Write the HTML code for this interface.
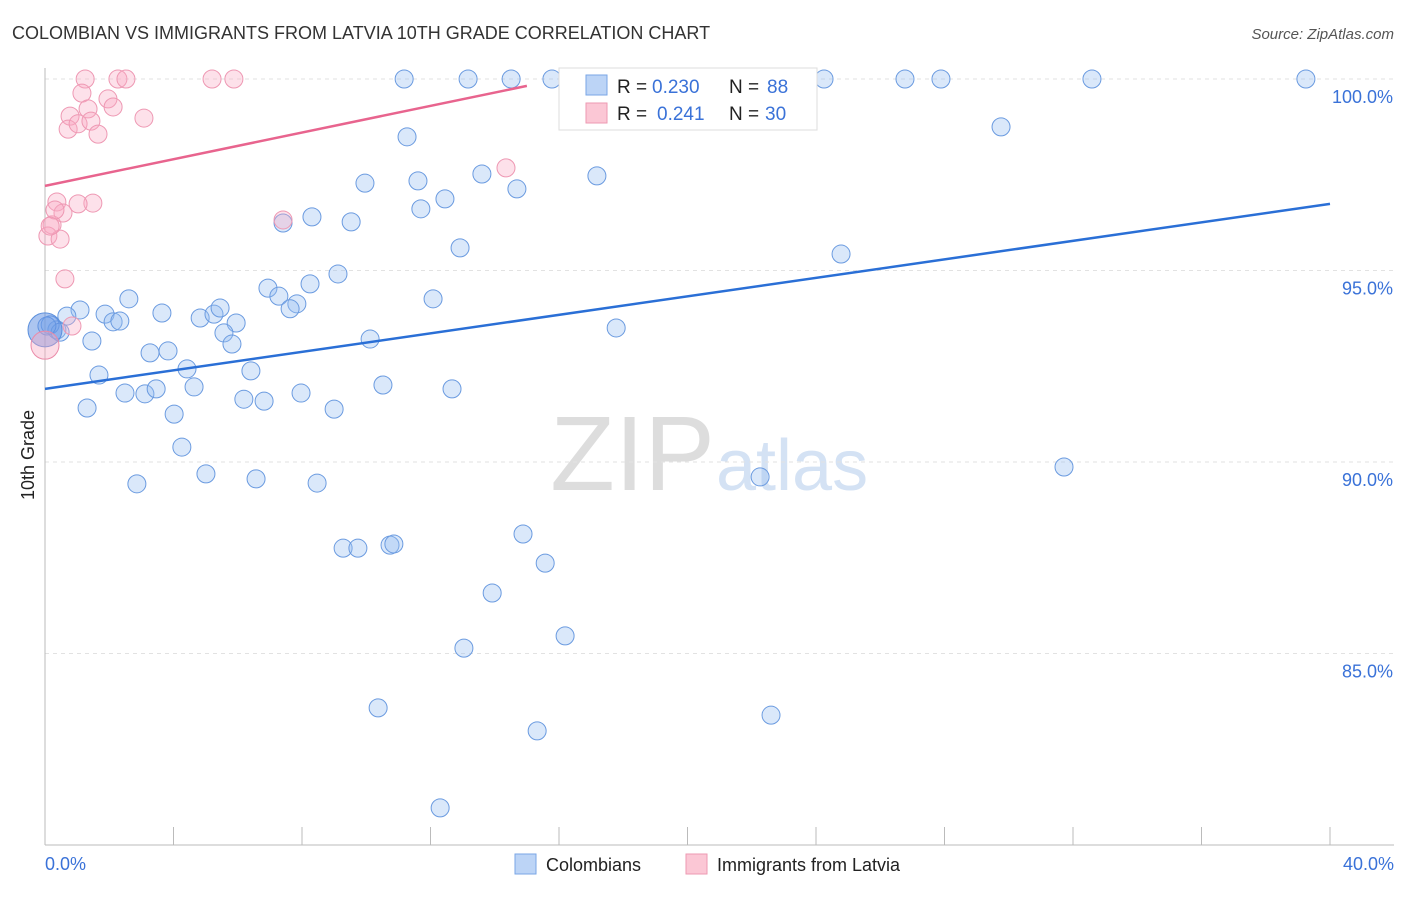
<!DOCTYPE html>
<html><head><meta charset="utf-8"><style>
body{margin:0;background:#fff;font-family:"Liberation Sans",sans-serif}
svg text{font-family:"Liberation Sans",sans-serif}
</style></head><body>
<svg id="c" width="1406" height="892">
<text x="12" y="39" font-size="18" fill="#333">COLOMBIAN VS IMMIGRANTS FROM LATVIA 10TH GRADE CORRELATION CHART</text>
<text x="1394" y="39" font-size="15" fill="#555" font-style="italic" text-anchor="end">Source: ZipAtlas.com</text>
<text x="34" y="455" font-size="18" fill="#222" transform="rotate(-90 34 455)" text-anchor="middle">10th Grade</text>
<text x="715" y="490" font-size="106" fill="#ddd" text-anchor="end" font-family="Liberation Serif">ZIP</text>
<text x="716" y="490" font-size="72" fill="#d4e2f4">atlas</text>
<g id="grid"></g><g id="pts"></g><g id="lines"></g>
<g>
<rect x="559" y="68" width="258" height="62" fill="#fff" stroke="#ddd"/>
<rect x="586" y="75" width="21" height="20" fill="#bcd4f6" stroke="#7aa6e6"/>
<rect x="586" y="103" width="21" height="20" fill="#fbc7d5" stroke="#ee9ab2"/>
<text x="617" y="93" font-size="19" fill="#222">R =</text>
<text x="652" y="93" font-size="19" fill="#3a72d8">0.230</text>
<text x="729" y="93" font-size="19" fill="#222">N =</text>
<text x="767" y="93" font-size="19" fill="#3a72d8">88</text>
<text x="617" y="120" font-size="19" fill="#222">R =</text>
<text x="657" y="120" font-size="19" fill="#3a72d8">0.241</text>
<text x="729" y="120" font-size="19" fill="#222">N =</text>
<text x="765" y="120" font-size="19" fill="#3a72d8">30</text>
</g>
<g>
<rect x="515" y="854" width="21" height="20" fill="#bcd4f6" stroke="#7aa6e6"/>
<text x="546" y="871" font-size="18" fill="#222">Colombians</text>
<rect x="686" y="854" width="21" height="20" fill="#fbc7d5" stroke="#ee9ab2"/>
<text x="717" y="871" font-size="18" fill="#222">Immigrants from Latvia</text>
</g>
</svg>
<script>
const yTicks=[100,95,90,85];
const yTickLabels=["100.0%","95.0%","90.0%","85.0%"];
const xEndLabels=["0.0%","40.0%"];
const blueX=[11.18,13.17,14.51,15.78,24.25,26.77,27.89,32.59,39.25,11.27,29.76,9.96,11.61,13.60,14.69,17.18,11.70,12.45,8.31,9.53,7.41,12.92,24.78,9.12,6.94,8.25,7.28,7.84,7.63,12.08,2.61,1.09,0.68,1.87,2.12,2.33,3.64,4.83,5.26,5.45,5.95,5.57,5.82,10.12,17.78,1.46,0.37,0.16,0.47,3.27,3.83,1.68,4.42,6.41,4.64,2.49,3.11,3.46,6.19,6.82,7.97,10.52,12.67,9.00,1.31,4.02,4.26,5.01,6.57,2.86,8.47,22.26,31.72,9.28,9.74,10.74,10.86,14.88,15.57,13.92,16.19,13.04,10.37,22.60,15.32,12.30,0.06];
const blueY=[100,100,100,100,100,100,100,100,100,98.49,98.75,97.28,97.34,97.52,97.13,97.47,96.61,96.87,96.40,96.27,96.24,95.59,95.43,94.91,94.54,94.65,94.33,94.13,94.0,94.26,94.26,93.97,93.81,93.86,93.66,93.68,93.89,93.76,93.86,94.02,93.63,93.37,93.08,93.21,93.50,93.16,93.45,93.58,93.39,92.85,92.90,92.27,92.43,92.38,91.96,91.80,91.78,91.91,91.64,91.59,91.80,92.01,91.91,91.38,91.41,91.25,90.39,89.69,89.56,89.43,89.45,89.61,89.87,87.75,87.75,87.83,87.86,88.12,87.36,86.58,85.46,85.14,83.58,83.39,82.98,80.97,93.55];
const pinkX=[1.25,2.27,2.52,5.20,5.88,1.15,1.96,0.78,1.34,2.12,0.72,1.03,1.43,1.65,3.08,14.35,7.41,0.37,1.49,1.03,0.56,0.22,0.09,0.47,0.62,0.84,0.31,0.16];
const pinkY=[100,100,100,100,100,99.63,99.48,99.03,99.22,99.27,98.69,98.83,98.90,98.56,98.98,97.68,96.32,96.79,96.76,96.74,96.50,96.19,95.90,95.82,94.78,93.55,96.58,96.16];
const blueBig=[0.0,93.45]; const pinkBig=[0.0,93.05];
const blueTrend=[91.91,96.74];
const pinkTrend=[97.21,99.82,15.0];
const NS="http://www.w3.org/2000/svg";
const X=v=>45+v/40*1285, Y=v=>79+(100-v)/5*191.5;
function mk(t,a,p){const e=document.createElementNS(NS,t);for(const k in a)e.setAttribute(k,a[k]);p.appendChild(e);return e;}
const g=document.getElementById('grid');
yTicks.forEach((t,i)=>{
 const l=mk('line',{x1:45,x2:1394,y1:Y(t),y2:Y(t),stroke:'#e2e2e2','stroke-dasharray':'4,4'},g);
 
 
 const tx=mk('text',{x:1393,y:Y(t)+24,'font-size':18,fill:'#3a72d8','text-anchor':'end'},g);tx.textContent=yTickLabels[i];
 
 
});
mk('line',{x1:45,x2:45,y1:68,y2:845,stroke:'#bbb'},g);
mk('line',{x1:45,x2:1394,y1:845,y2:845,stroke:'#bbb'},g);
for(let i=0;i<=10;i++){mk('line',{x1:X(i*4),x2:X(i*4),y1:827,y2:845,stroke:'#bbb'},g);}
[[0,'start',45],[40,'end',1394]].forEach((d,i)=>{const t=mk('text',{x:d[2],y:870,'font-size':18,fill:'#3a72d8','text-anchor':d[1]},g);t.textContent=xEndLabels[i];
 
 });
const p=document.getElementById('pts');
blueX.forEach((x,i)=>{const c=mk('circle',{cx:X(x),cy:Y(blueY[i]),r:9,fill:'rgba(150,190,240,0.35)',stroke:'#6b9be0','stroke-width':1},p);
 
 });
pinkX.forEach((x,i)=>{const c=mk('circle',{cx:X(x),cy:Y(pinkY[i]),r:9,fill:'rgba(248,170,195,0.35)',stroke:'#ee98b3','stroke-width':1},p);
 
 });
let b=mk('circle',{cx:X(blueBig[0]),cy:Y(blueBig[1]),r:17,fill:'rgba(90,140,225,0.5)',stroke:'#5b8fdc'},p);


b=mk('circle',{cx:X(pinkBig[0]),cy:Y(pinkBig[1]),r:14,fill:'rgba(248,170,195,0.4)',stroke:'#ea8aa8'},p);


const L=document.getElementById('lines');
let l=mk('line',{x1:X(0),y1:Y(blueTrend[0]),x2:X(40),y2:Y(blueTrend[1]),stroke:'#2a6fd6','stroke-width':2.5},L);


l=mk('line',{x1:X(0),y1:Y(pinkTrend[0]),x2:X(pinkTrend[2]),y2:Y(pinkTrend[1]),stroke:'#e8648e','stroke-width':2.5},L);


</script>
</body></html>
